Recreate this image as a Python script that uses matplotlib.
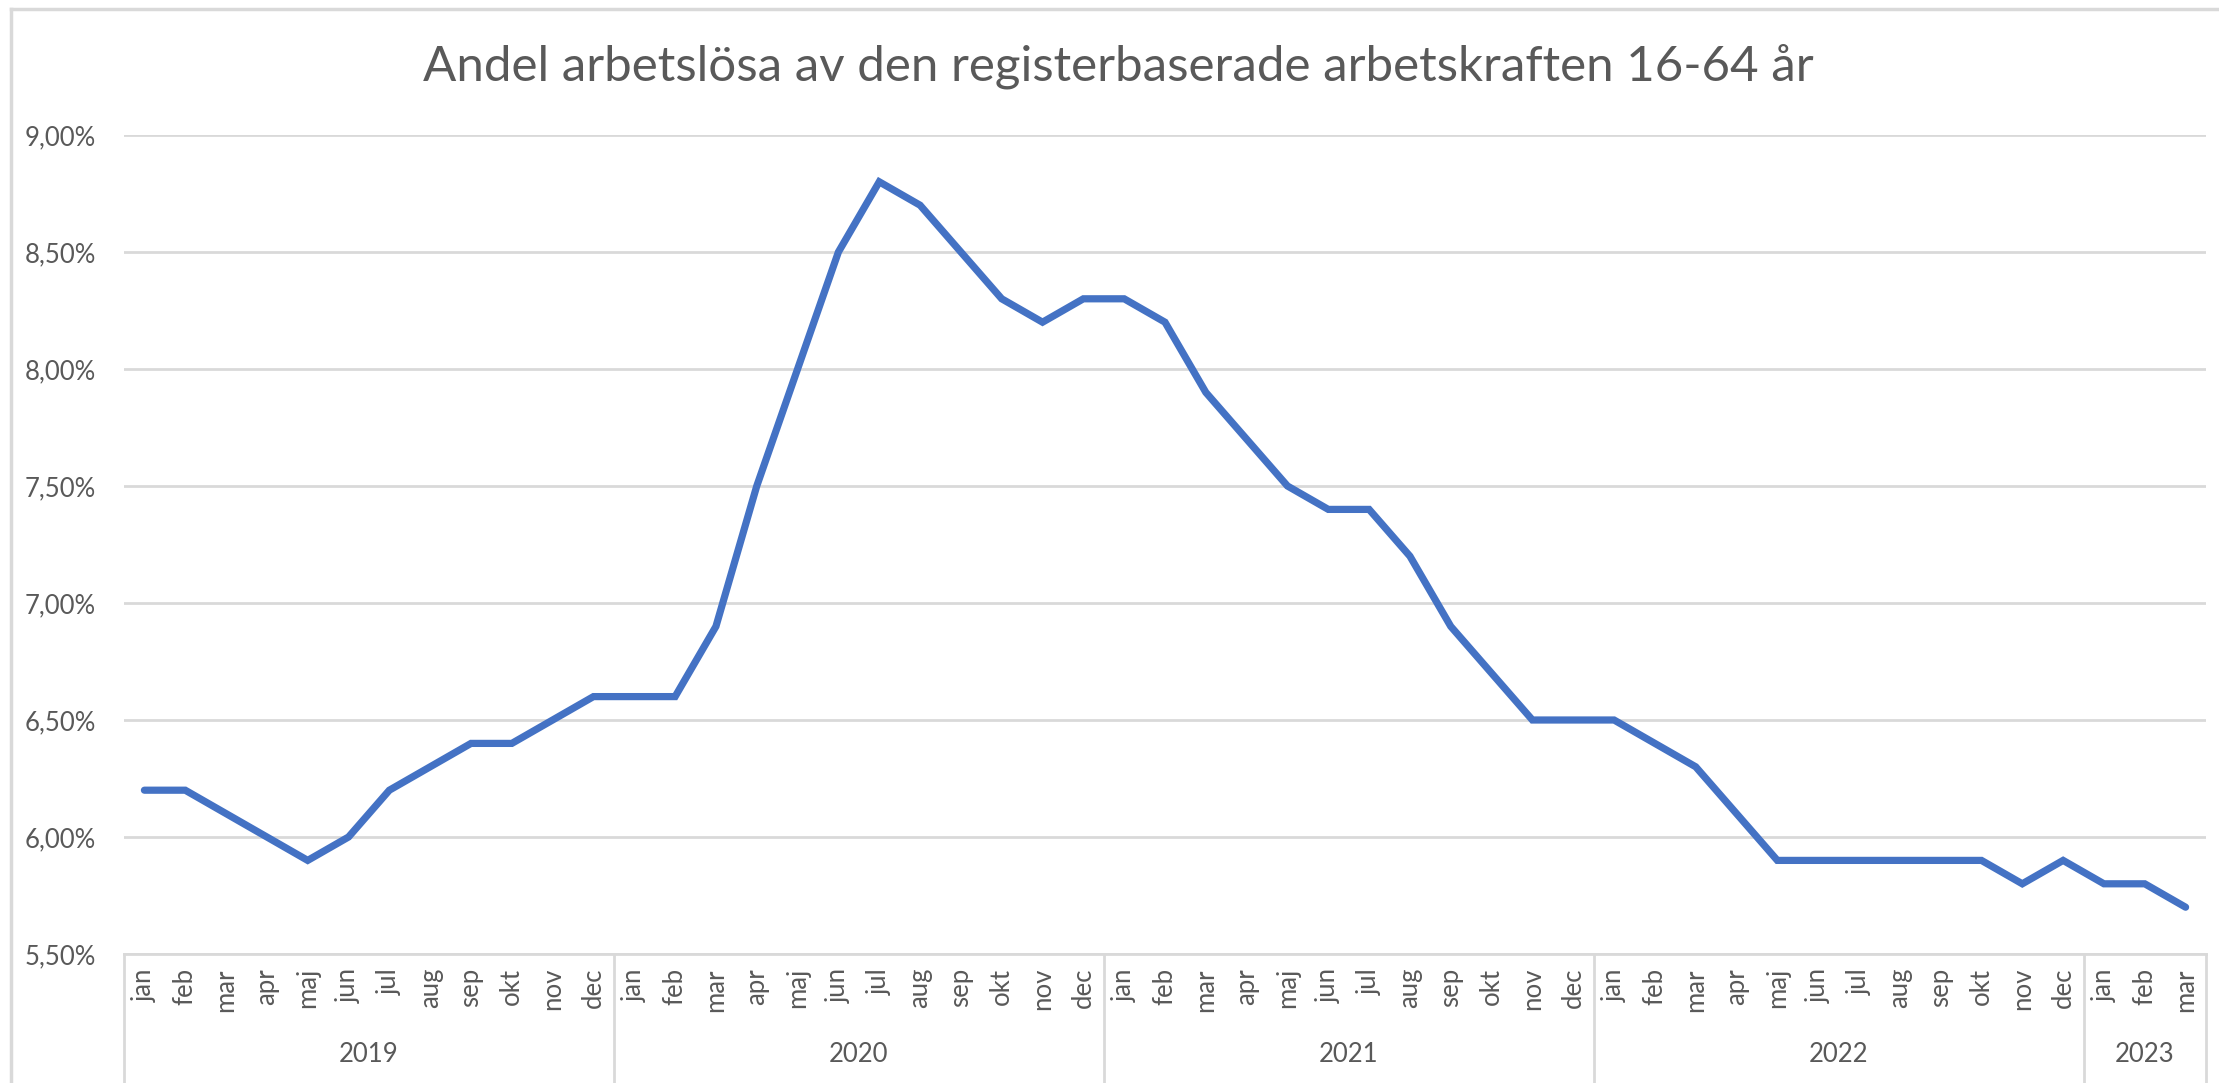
import matplotlib
matplotlib.use("Agg")
import matplotlib.pyplot as plt
from matplotlib.lines import Line2D

plt.rcParams['font.family'] = ['Lato', 'DejaVu Sans']

title = "Andel arbetslösa av den registerbaserade arbetskraften 16-64 år"
months = ["jan", "feb", "mar", "apr", "maj", "jun", "jul", "aug", "sep", "okt", "nov", "dec"]
years = ["2019", "2020", "2021", "2022", "2023"]
months_per_year = [12, 12, 12, 12, 3]
values = [
    6.2, 6.2, 6.1, 6.0, 5.9, 6.0, 6.2, 6.3, 6.4, 6.4, 6.5, 6.6,
    6.6, 6.6, 6.9, 7.5, 8.0, 8.5, 8.8, 8.7, 8.5, 8.3, 8.2, 8.3,
    8.3, 8.2, 7.9, 7.7, 7.5, 7.4, 7.4, 7.2, 6.9, 6.7, 6.5, 6.5,
    6.5, 6.4, 6.3, 6.1, 5.9, 5.9, 5.9, 5.9, 5.9, 5.9, 5.8, 5.9,
    5.8, 5.8, 5.7,
]
yticks = [5.5, 6.0, 6.5, 7.0, 7.5, 8.0, 8.5, 9.0]

W, H = 2219, 1083
fig = plt.figure(figsize=(W / 100, H / 100), dpi=100)
fig.patch.set_facecolor("white")

gray_txt = "#595959"
grid_c = "#D9D9D9"
lab_fs = 18.5

left, right = 124 / W, 2206 / W
bottom, top = 1 - 954 / H, 1 - 135 / H
ax = fig.add_axes([left, bottom, right - left, top - bottom])

n = len(values)
x = list(range(n))
ax.plot(x, values, color="#4472C4", lw=5.2, solid_joinstyle="miter", solid_capstyle="round", zorder=3)
ax.set_xlim(-0.5, n - 0.5)
ax.set_ylim(5.5, 9.0)
ax.set_yticks(yticks)
ax.set_yticklabels([f"{v:.2f}".replace(".", ",") + "%" for v in yticks])
ax.tick_params(axis="y", length=0, pad=20, labelsize=lab_fs, labelcolor=gray_txt)
ax.set_xticks([])
ax.grid(axis="y", color=grid_c, lw=2)
ax.set_axisbelow(True)
for s in ["top", "right", "left"]:
    ax.spines[s].set_visible(False)
ax.spines["bottom"].set_color(grid_c)
ax.spines["bottom"].set_linewidth(2)

# Multi-level category labels
trans = ax.get_xaxis_transform()
ax_h_px = (top - bottom) * H
def yfrac(px_below):
    return -px_below / ax_h_px

month_labels = []
for cnt in months_per_year:
    month_labels += months[:cnt]
for i, m in enumerate(month_labels):
    ax.text(i, yfrac(14), m, rotation=90, ha="center", va="top", fontsize=lab_fs,
            color=gray_txt, transform=trans, clip_on=False)

start = 0
bounds = [-0.5]
for yr, cnt in zip(years, months_per_year):
    center = start + (cnt - 1) / 2
    ax.text(center, yfrac(100), yr, ha="center", va="center", fontsize=lab_fs,
            color=gray_txt, transform=trans, clip_on=False)
    start += cnt
    bounds.append(start - 0.5)
for b in bounds:
    ax.add_line(Line2D([b, b], [0, yfrac(128)], transform=trans, color=grid_c, lw=2, clip_on=False))

# Title
fig.text(1118 / W, 1 - 66 / H, title, ha="center", va="center", fontsize=35.5, color=gray_txt)

# Chart frame
fig.add_artist(Line2D([11 / W, 11 / W], [0, 1 - 9 / H], color=grid_c, lw=2.5, transform=fig.transFigure))
fig.add_artist(Line2D([11 / W, 1], [1 - 9 / H, 1 - 9 / H], color=grid_c, lw=2.5, transform=fig.transFigure))

fig.savefig("out.png", dpi=100, facecolor="white")
